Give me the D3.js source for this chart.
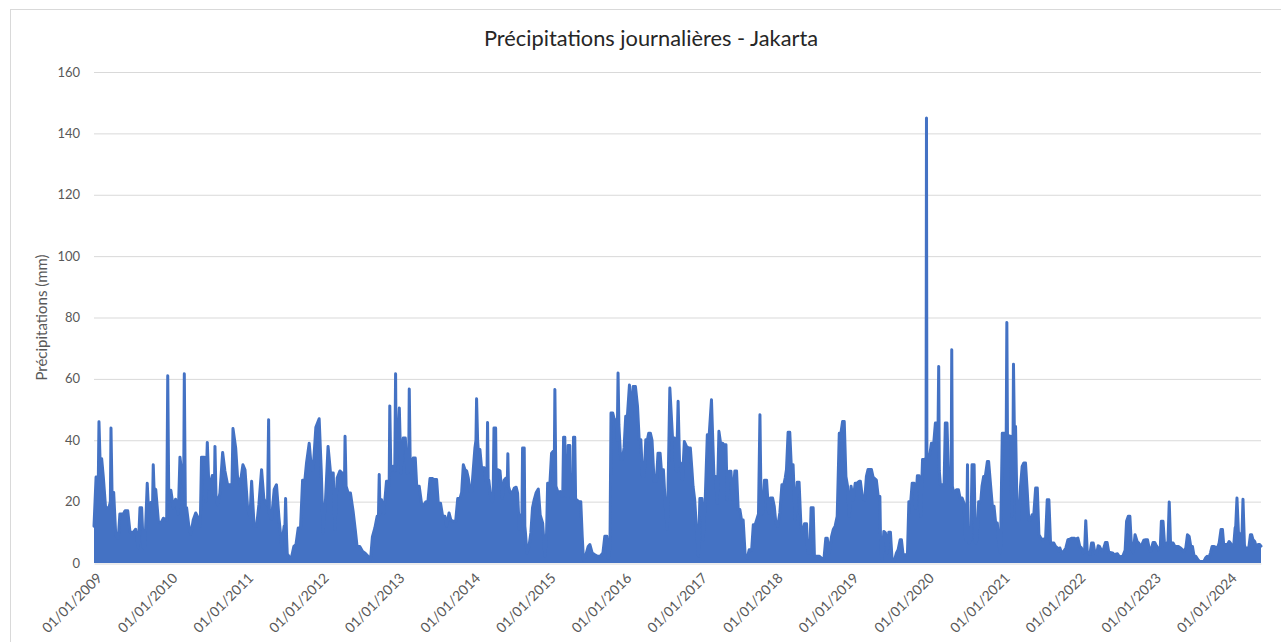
<!DOCTYPE html>
<html>
<head>
<meta charset="utf-8">
<script src="https://cdn.jsdelivr.net/npm/d3@7"></script>
<style>
body { margin: 0; background: #fff; }
text { font-family: Lato, "Open Sans", sans-serif; }
</style>
</head>
<body>
<div id="chart"></div>
<script>
"use strict";
// daily rainfall envelope: [day of year, mm]
var rain2009 = [[0,12],[10,28],[21,28],[24,46],[29,34],[37,34],[45,28],[56,18],[72,18],[79,20],[82,44],[87,23],[95,23],[105,9],[117,8],[125,16],[142,16],[150,17],[163,17],[174,10],[190,10],[201,11],[214,5],[222,18],[230,18],[238,5],[246,5.6],[257,26],[265,15],[270,19.5],[283,20],[286,32],[291,22],[298,24],[311,13.5],[323,13],[335,14.6],[351,14],[356,61],[361,20]];
var rain2010 = [[6,23.7],[18,18],[29,20.8],[42,16],[50,34.5],[61,28],[68,25],[71,61.7],[76,18],[82,18],[93,12],[103,9.4],[114,14],[126,16.3],[138,14.7],[148,12],[154,34.5],[167,34.5],[174,20],[182,39.3],[190,24],[206,28.5],[216,22],[219,38],[224,22],[232,19],[243,22.8],[256,36],[267,30],[280,25.5],[293,25.5],[301,25],[306,43.8],[319,37.5],[328,28],[340,25.5],[354,32],[364,30.4]];
var rain2011 = [[11,18.5],[23,15],[31,26.6],[43,12],[55,12],[66,19],[79,30.4],[90,21],[103,19],[108,20],[113,46.7],[117,16],[127,14.3],[140,24],[151,25.5],[163,14.7],[176,5.4],[188,12],[191,10],[195,21],[200,8],[203,3],[216,1.6],[224,2],[235,5.4],[245,6],[256,11.4],[267,11.4],[277,27],[288,27],[296,32.6],[309,39],[320,30.4],[328,30.4],[341,44.2],[357,47]];
var rain2012 = [[2,30.4],[11,9.8],[23,21],[35,38],[47,29.3],[60,29.3],[68,10.9],[79,27.7],[92,30],[108,29],[114,25],[117,41.3],[122,25],[132,22.8],[143,22.8],[156,16.8],[166,11],[175,5.4],[188,5.4],[201,3.8],[212,3.3],[228,2.2],[240,1],[249,8.5],[261,11.4],[272,15.2],[278,14],[282,28.8],[286,16],[293,20.6],[304,16.3],[317,26.6],[325,26.6],[330,25],[333,51.2],[338,30],[349,31.5],[357,30],[361,61.7],[364,32]];
var rain2013 = [[3,33.7],[13,50.5],[21,29.3],[32,40.7],[42,40.7],[50,29.3],[58,30],[61,56.7],[66,30],[72,29.3],[80,34.2],[90,34.2],[97,25],[109,25],[121,19],[132,19],[142,20],[151,20],[161,27.5],[174,27.5],[180,27.2],[193,27.2],[201,19.5],[212,19.5],[222,15.2],[233,15.2],[241,12],[253,16.3],[262,14],[274,13.6],[285,13.6],[295,21],[306,21],[314,23],[322,32],[330,30.4],[338,30],[346,27.7],[354,23.3],[362,23.3]];
var rain2014 = [[5,30.4],[13,37.5],[18,40],[21,53.5],[26,40],[29,37],[37,37],[45,31],[58,31],[66,27],[71,27],[74,45.8],[77,27],[80,27],[90,21],[97,20],[101,22],[105,44],[113,44],[116,25],[122,30.4],[134,30],[145,21],[154,27],[163,27.7],[169,25],[172,35.6],[175,25],[182,23.3],[193,22.8],[203,24.4],[212,24.7],[219,22.8],[227,10.9],[235,15.7],[240,15],[243,37.5],[251,37.5],[254,12],[257,9.8],[264,3.3],[274,5.4],[283,9.8],[291,18],[299,20.6],[309,23],[319,24.1],[328,15.7],[340,13],[351,2.2],[359,9.8],[364,26]];
var rain2015 = [[10,26],[18,35.8],[26,36.4],[31,30],[34,56.5],[39,25],[50,22.8],[60,23.3],[69,21.7],[72,22],[76,41],[82,41],[85,22],[90,21.7],[95,22],[98,38.3],[106,38.3],[109,22],[114,21],[121,21],[124,41],[130,41],[134,21],[138,20.6],[150,20],[159,20],[166,8.7],[172,1],[182,2.2],[195,5.4],[203,6],[214,3.3],[227,2.7],[240,2.2],[253,2.2],[266,3.3],[275,8.7],[285,8.7],[292,1.6],[300,5.4],[305,48.9],[313,48.9],[321,46.7],[330,46.7],[335,40],[339,61.9],[343,45],[352,33.7],[360,33.7]];
var rain2016 = [[3,37.5],[11,47.8],[19,47.8],[29,58],[39,47.8],[47,57.5],[58,57.5],[68,51],[76,40.2],[84,40.2],[92,28.2],[100,28.2],[108,40.2],[116,40.2],[122,42.3],[130,42.3],[138,40],[148,26.6],[159,26.6],[167,35.8],[177,35.8],[183,30.4],[193,30.4],[203,18],[212,10.9],[224,57],[237,40.7],[246,40.7],[253,30.4],[256,30],[264,52.7],[271,32],[275,32.6],[285,27.1],[294,39.6],[304,38],[314,37.5],[323,37.5],[330,31],[336,25],[344,20.6],[352,12],[362,2.2]];
var rain2017 = [[3,21],[13,21],[19,7.6],[29,21],[39,41.8],[48,41.8],[59,53.2],[71,28.2],[79,28.2],[87,19.5],[95,42.9],[103,39],[113,39],[119,38.5],[129,38.5],[135,20.6],[145,29.9],[153,29.9],[161,20.6],[172,30],[180,30],[188,17.4],[196,17.4],[204,14],[212,14],[222,2.2],[232,1.6],[241,4.3],[253,4.3],[261,12.5],[270,12.5],[280,14.7],[286,16],[293,48.3],[299,16],[306,16.3],[315,27],[325,27],[335,16.3],[344,21.2],[354,21.2],[362,18.5]];
var rain2018 = [[5,13],[14,12],[24,16.3],[34,25.5],[43,25.5],[50,27.7],[56,30.4],[64,42.6],[72,42.6],[79,32],[88,32],[98,14],[108,26.3],[117,26.3],[126,12],[134,9.8],[143,12.8],[153,12.8],[159,3.3],[169,3.3],[175,18],[185,18],[191,2.2],[214,2.2],[225,1.6],[237,1.3],[246,8.1],[253,8.1],[262,3.3],[274,8.7],[282,10.9],[291,12],[301,15.2],[311,42.3],[319,42.3],[327,46.1],[335,46.1],[343,28.2],[351,25],[359,15.2]];
var rain2019 = [[3,25],[13,20.6],[23,26],[32,26],[42,26.6],[48,26.6],[58,21.2],[69,20.6],[77,28.2],[85,30.5],[93,30.5],[101,30.5],[109,28],[125,27],[134,21.7],[142,21.7],[146,4.3],[153,1],[161,10.3],[169,9.8],[177,3.3],[185,10],[193,10],[201,1],[211,0.5],[222,3.3],[230,4.3],[240,7.6],[246,7.6],[254,2.7],[275,2.7],[282,20],[291,20],[298,26],[307,26],[314,18],[323,28.4],[331,28.4],[339,15.2],[348,33.7],[356,33.7],[362,34]];
var rain2020 = [[0,34],[2,145],[4,35],[10,35.3],[18,35.3],[26,39],[37,39],[45,45.6],[51,45.6],[58,45],[61,64],[64,30],[69,25.5],[87,25.5],[93,45.6],[101,45.6],[109,26],[116,26],[121,25],[124,69.5],[127,25],[132,23.3],[138,23.3],[148,23.9],[156,23.9],[164,21.2],[174,21.2],[183,19.5],[191,7.6],[196,8],[200,32],[203,8],[208,6.5],[216,7.6],[222,32],[232,32],[238,6.5],[246,7.6],[254,20],[264,20],[270,25],[278,28.2],[286,28.2],[296,33.1],[302,33.1],[312,25],[320,18.5],[328,18.5],[336,13],[344,13],[351,6.5],[359,3.3]];
var rain2021 = [[2,42.3],[19,42.3],[21,42],[24,78.4],[27,42],[34,41.3],[42,41.3],[48,15.2],[53,30],[56,64.8],[60,44.5],[66,44.5],[74,14],[82,14],[90,25],[98,31.5],[106,32.6],[114,32.6],[122,23.9],[130,14],[138,14],[146,15.7],[154,15.7],[163,24.4],[171,24.4],[179,9.2],[187,8.2],[195,7.6],[211,8],[219,20.6],[227,20.6],[235,6.5],[251,6.5],[259,5.4],[267,5],[275,3.8],[280,4.9],[288,3.3],[299,3.8],[309,4.9],[319,7.6],[328,7.8],[338,8.1],[348,8.1],[357,7.8]];
var rain2022 = [[2,8.1],[11,5.4],[19,4.9],[27,3.3],[34,3.5],[40,13.8],[47,4],[51,3.3],[60,2.8],[68,6.5],[76,6.5],[84,3.3],[92,2.8],[100,5.6],[106,5.4],[116,4.1],[124,4.1],[135,6.7],[143,6.7],[151,3.5],[169,3.3],[177,2.7],[193,3],[201,2.2],[212,2],[220,2.4],[230,4.1],[237,13.6],[245,15.2],[253,15.2],[261,4.9],[269,3.3],[278,9.2],[288,7],[296,6.5],[304,5.4],[311,6],[320,7.4],[330,7.6],[338,7.6],[346,4.9],[354,3.8]];
var rain2023 = [[0,6.7],[8,6.7],[16,5.6],[26,4.3],[35,5.4],[40,13.6],[48,13.6],[56,5.4],[68,6.5],[72,7],[78,19.9],[84,7],[88,6.5],[97,6.5],[105,5.4],[122,5.4],[132,4.9],[142,4.3],[150,3.8],[158,4.9],[166,9.2],[174,8.7],[182,5.4],[190,5.4],[198,2.2],[206,2.2],[216,1.1],[225,0.5],[245,0.5],[253,1.6],[261,2.2],[269,1.6],[277,3.3],[285,5.4],[293,5.4],[301,5.2],[311,4.9],[319,6.5],[328,10.9],[335,10.9],[341,6],[359,6]];
var rain2024 = [[2,7],[8,6.5],[16,5.6],[24,5.4],[31,11.4],[34,12],[40,21.2],[47,10],[50,9.8],[58,5.4],[63,6],[69,20.8],[76,6],[79,4.9],[97,4.9],[105,9.2],[111,9.2],[117,7.6],[126,7],[134,4.9],[142,6],[150,6],[156,5.5]];

var years = [2009, 2010, 2011, 2012, 2013, 2014, 2015, 2016, 2017, 2018, 2019, 2020, 2021, 2022, 2023, 2024];
var yearSeries = [rain2009, rain2010, rain2011, rain2012, rain2013, rain2014, rain2015, rain2016, rain2017, rain2018, rain2019, rain2020, rain2021, rain2022, rain2023, rain2024];
var yTicks = [0, 20, 40, 60, 80, 100, 120, 140, 160];
var chartTitle = "Précipitations journalières - Jakarta";
var yTitle = "Précipitations (mm)";

var width = 1281, height = 642;
var margin = { top: 72, right: 20, bottom: 79, left: 94 };

var points = [];
yearSeries.forEach(function (arr, i) {
    arr.forEach(function (p) {
        points.push({ date: d3.timeDay.offset(new Date(years[i], 0, 1), p[0]), value: p[1] });
    });
});

var svg = d3.select("#chart").append("svg")
    .attr("width", width)
    .attr("height", height);

// chart frame
svg.append("rect")
    .attr("x", 10.5).attr("y", 9.5)
    .attr("width", 1290).attr("height", 650)
    .attr("fill", "none")
    .attr("stroke", "#d9d9d9");

var x = d3.scaleTime()
    .domain(d3.extent(points, function (d) { return d.date; }))
    .range([margin.left, width - margin.right]);
var y = d3.scaleLinear()
    .domain([0, 160])
    .range([height - margin.bottom, margin.top]);

// gridlines
svg.append("g").selectAll("line")
    .data(yTicks.slice(1))
    .enter().append("line")
    .attr("x1", x.range()[0]).attr("x2", x.range()[1])
    .attr("y1", function (d) { return y(d) + 0.5; })
    .attr("y2", function (d) { return y(d) + 0.5; })
    .attr("stroke", "#d9d9d9")
    .attr("stroke-width", 1);

// y labels
svg.append("g").selectAll("text")
    .data(yTicks)
    .enter().append("text")
    .attr("x", 80)
    .attr("y", function (d) { return y(d); })
    .attr("dy", "0.35em")
    .attr("text-anchor", "end")
    .attr("fill", "#595959")
    .style("font-size", "13px")
    .text(function (d) { return d; });

svg.append("text")
    .attr("transform", "translate(47," + ((y(0) + y(160)) / 2) + ") rotate(-90)")
    .attr("text-anchor", "middle")
    .attr("fill", "#595959")
    .style("font-size", "15px")
    .text(yTitle);

// series
var area = d3.area()
    .x(function (d) { return x(d.date); })
    .y0(y(0))
    .y1(function (d) { return y(d.value); });
var line = d3.line()
    .x(function (d) { return x(d.date); })
    .y(function (d) { return y(d.value); });

svg.append("path")
    .datum(points)
    .attr("d", area)
    .attr("fill", "#4472c4");
svg.append("path")
    .datum(points)
    .attr("d", line)
    .attr("fill", "none")
    .attr("stroke", "#4472c4")
    .attr("stroke-width", 3)
    .attr("stroke-linejoin", "round")
    .attr("stroke-linecap", "round");

// x axis
var xAxis = d3.axisBottom(x)
    .tickValues(years.map(function (yr) { return new Date(yr, 0, 1); }))
    .tickFormat(d3.timeFormat("%d/%m/%Y"))
    .tickSize(0);
var gx = svg.append("g")
    .attr("transform", "translate(0," + (y(0) + 0.5) + ")")
    .call(xAxis);
gx.select(".domain").attr("stroke", "#d9d9d9");
gx.selectAll("text")
    .attr("fill", "#595959")
    .style("font-size", "14px")
    .attr("text-anchor", "end")
    .attr("x", 0).attr("y", 0).attr("dy", "0.35em")
    .attr("transform", "translate(5,12) rotate(-45)");

// title
svg.append("text")
    .attr("x", 651)
    .attr("y", 46)
    .attr("text-anchor", "middle")
    .attr("fill", "#262626")
    .style("font-size", "21.8px")
    .text(chartTitle);
</script>
</body>
</html>
